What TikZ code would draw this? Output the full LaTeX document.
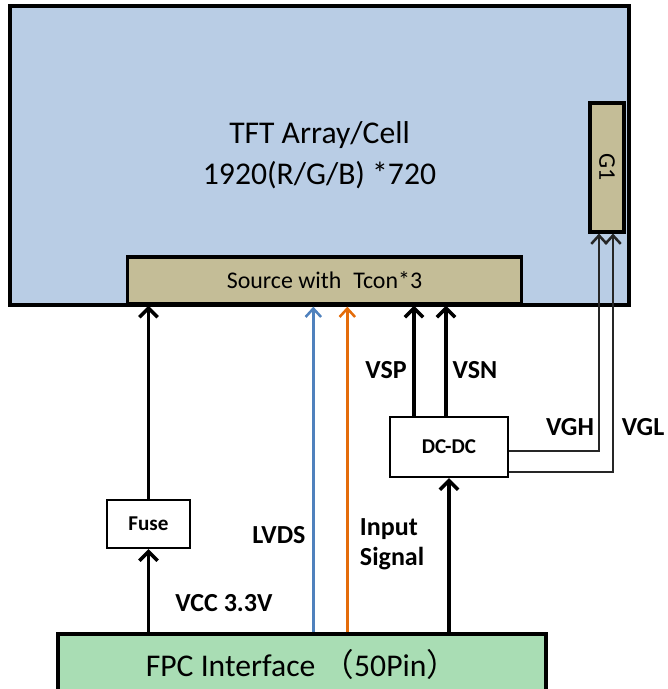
\documentclass[tikz,border=0pt]{standalone}
\usepackage{fontspec}
\setmainfont{Carlito}
\newfontfamily\cjkfont{Noto Sans CJK SC}
\usetikzlibrary{positioning, calc, arrows.meta}

\definecolor{panelblue}{HTML}{B9CDE5}
\definecolor{chiptan}{HTML}{C4BD97}
\definecolor{fpcgreen}{HTML}{A9DDB4}
\definecolor{lvdsblue}{HTML}{4F81BD}
\definecolor{sigorange}{HTML}{E46C0A}

\begin{document}
\begin{tikzpicture}[x=0.025cm, y=-0.025cm,
    box/.style={draw, line width=1.5pt, inner sep=0pt, align=center},
    chip/.style={box, fill=chiptan, line width=2.2pt},
    lbl/.style={font=\fontsize{18.5}{21}\selectfont\bfseries},
    small/.style={font=\fontsize{15}{18}\selectfont\bfseries},
    pwr/.style={line width=2.5pt, -{Straight Barb[length=6.5pt, width=13pt]}},
    sig/.style={line width=1.8pt, -{Straight Barb[length=6pt, width=11pt]}},
    gline/.style={line width=1.8pt, draw=black!85, -{Straight Barb[length=6pt, width=11pt]}}
]
\useasboundingbox (0,0) rectangle (667,689);
% panel and drivers
\node[box, line width=2.3pt, fill=panelblue, minimum width=15.475cm, minimum height=7.475cm,
      font=\fontsize{22.5}{29}\selectfont] (panel) at (319.5,155.5) {TFT Array/Cell\\1920(R/G/B) *720};
\node[chip, minimum width=0.85cm, minimum height=3.225cm] (gate) at (607,167.5)
      {\rotatebox{-90}{\fontsize{17}{20}\selectfont G1}};
\node[chip, minimum width=9.825cm, minimum height=1.175cm, font=\fontsize{17}{20}\selectfont]
      (source) at (324.5,280.5) {Source with\enspace Tcon*3};
% fuse, dc-dc and fpc
\node[box, small, minimum width=2.075cm, minimum height=1.2cm] (fuse) at (148.5,524) {Fuse};
\node[box, small, minimum width=2.95cm, minimum height=1.5cm] (dcdc) at (449,447) {DC-DC};
\node[box, line width=2.3pt, fill=fpcgreen, minimum width=12.2cm, minimum height=1.5cm,
      font=\fontsize{22.5}{26}\selectfont] (fpc) at (302,664) {FPC Interface {\cjkfont （}50Pin{\cjkfont ）}};

% power
\draw[pwr] (fpc.north -| fuse.south) -- (fuse.south);
\draw[pwr] (fuse.north) -- (fuse.north |- source.south);
\draw[pwr] (fpc.north -| dcdc.south) -- (dcdc.south);
\coordinate (vsp) at ($(dcdc.north)+(-35,0)$);
\coordinate (vsn) at ($(dcdc.north)+(-3,0)$);
\draw[pwr] (vsp) -- (vsp |- source.south);
\draw[pwr] (vsn) -- (vsn |- source.south);
% gate voltages
\coordinate (vgh) at ($(dcdc.east)+(0,4)$);
\coordinate (vgl) at ($(dcdc.east)+(0,25)$);
\draw[gline] (vgh) -| ($(gate.south)+(-8,0)$);
\draw[gline] (vgl) -| ($(gate.south)+(6,0)$);
% signals
\coordinate (lvds) at ($(fpc.north west)+(257,0)$);
\coordinate (insig) at ($(fpc.north west)+(291,0)$);
\draw[sig, lvdsblue] (lvds) -- (lvds |- panel.south);
\draw[sig, sigorange] (insig) -- (insig |- panel.south);

% labels
\node[lbl] (vsplbl) at (386,370) {VSP};
\node[lbl] (vsnlbl) at (475,370) {VSN};
\node[lbl] (vghlbl) at (570,427) {VGH};
\node[lbl] (vgllbl) at (643,427) {VGL};
\node[lbl] (lvdslbl) at (279,535) {LVDS};
\node[lbl, align=left, anchor=west] (insiglbl) at (355,544) {Input\\Signal};
\node[lbl] (vcclbl) at (224,603) {VCC 3.3V};
\end{tikzpicture}
\end{document}
